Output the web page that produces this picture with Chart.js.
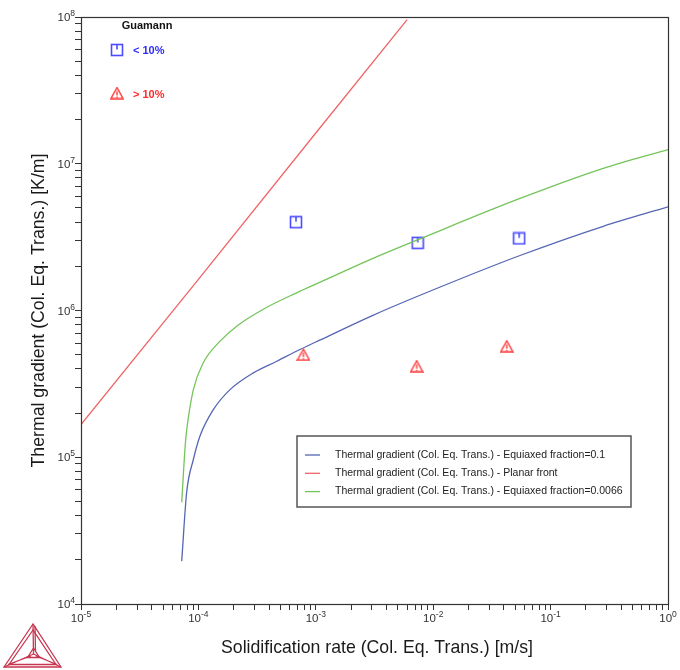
<!DOCTYPE html>
<html>
<head>
<meta charset="utf-8">
<script src="https://cdn.jsdelivr.net/npm/chart.js@4/dist/chart.umd.min.js"></script>
<style>
  body { margin: 0; background: #fff; }
  canvas { display: block; }
</style>
</head>
<body>
<canvas id="grafica" width="680" height="670"></canvas>
<script>
// curvas (log-log)
const velAzul = [7.21e-5, 7.94e-5, 9.06e-5, 1.03e-4, 1.34e-4, 1.86e-4, 2.94e-4, 4.65e-4, 7.33e-4, 1.09e-3, 3.0e-3, 7.73e-3, 5.49e-2, 0.281, 1.0];
const gradAzul = [1.96e4, 5.75e4, 9.65e4, 1.39e5, 2.11e5, 2.89e5, 3.76e5, 4.51e5, 5.42e5, 6.3e5, 9.2e5, 1.27e6, 2.37e6, 3.75e6, 5.08e6];

const velRojo = [1e-5, 1e-4, 1e-3, 6.0e-3];
const gradRojo = [1.67e5, 1.63e6, 1.62e7, 9.6e7];

const velVerde = [7.21e-5, 7.75e-5, 8.0e-5, 9.06e-5, 1.10e-4, 1.53e-4, 2.12e-4, 3.57e-4, 6.87e-4, 1.09e-3, 3.0e-3, 7.73e-3, 5.49e-2, 0.281, 1.0];
const gradVerde = [4.94e4, 1.25e5, 1.6e5, 2.89e5, 4.40e5, 6.18e5, 7.82e5, 1.02e6, 1.32e6, 1.56e6, 2.25e6, 3.08e6, 5.8e6, 9.3e6, 1.25e7];

// puntos experimentales (Guamann)
const velMenor = [6.78e-4, 7.38e-3, 0.054];
const gradMenor = [4.0e6, 2.89e6, 3.1e6];
const velMayor = [7.84e-4, 7.23e-3, 0.0423];
const gradMayor = [5.0e5, 4.17e5, 5.71e5];

const etiquetasSerie = [
    'Thermal gradient (Col. Eq. Trans.) - Equiaxed fraction=0.1',
    'Thermal gradient (Col. Eq. Trans.) - Planar front',
    'Thermal gradient (Col. Eq. Trans.) - Equiaxed fraction=0.0066'
];
const coloresSerie = ['#5566b4', '#f06468', '#74c45a'];
const expX = [-5, -4, -3, -2, -1, 0];
const expY = [4, 5, 6, 7, 8];

function pares(xs, ys) {
    return xs.map((x, i) => ({ x: x, y: ys[i] }));
}

function ticksLog(eMin, eMax) {
    const t = [];
    for (let e = eMin; e < eMax; e++) {
        for (let m = 1; m <= 9; m++) t.push({ value: m * Math.pow(10, e) });
    }
    t.push({ value: Math.pow(10, eMax) });
    return t;
}

// marcadores
function marcaCuadro() {
    const c = document.createElement('canvas');
    c.width = 14; c.height = 14;
    const g = c.getContext('2d');
    g.strokeStyle = '#4b4bff';
    g.lineWidth = 1.6;
    g.strokeRect(1.5, 1.5, 11, 11);
    g.beginPath();
    g.moveTo(7, 1.5); g.lineTo(7, 6.5);
    g.stroke();
    return c;
}
function marcaTriangulo() {
    const c = document.createElement('canvas');
    c.width = 14; c.height = 13;
    const g = c.getContext('2d');
    g.strokeStyle = '#ff3c3c';
    g.lineWidth = 1.4;
    g.beginPath();
    g.moveTo(7, 1); g.lineTo(1, 12); g.lineTo(13, 12); g.closePath();
    g.stroke();
    g.beginPath();
    g.moveTo(7, 4.5); g.lineTo(7, 9);
    g.stroke();
    g.fillStyle = '#ff3c3c';
    g.fillRect(6.3, 10, 1.4, 1.3);
    return c;
}
const imgCuadro = marcaCuadro();
const imgTriangulo = marcaTriangulo();

function textoPotencia(ctx, exp, x, y, alinear) {
    const base = '10', sup = String(exp);
    ctx.font = '11.5px "Liberation Sans", Arial, sans-serif';
    const w1 = ctx.measureText(base).width;
    ctx.font = '8.5px "Liberation Sans", Arial, sans-serif';
    const w2 = ctx.measureText(sup).width;
    let x0 = alinear === 'right' ? x - w1 - w2 : x - (w1 + w2) / 2;
    ctx.textAlign = 'left';
    ctx.textBaseline = 'alphabetic';
    ctx.font = '11.5px "Liberation Sans", Arial, sans-serif';
    ctx.fillText(base, x0, y + 4);
    ctx.font = '8.5px "Liberation Sans", Arial, sans-serif';
    ctx.fillText(sup, x0 + w1, y - 1);
}

const decoracion = {
    id: 'decoracion',
    afterDraw(chart) {
        const ctx = chart.ctx;
        const a = chart.chartArea;
        const sx = chart.scales.x, sy = chart.scales.y;
        ctx.save();

        // marco
        ctx.strokeStyle = '#333';
        ctx.lineWidth = 1.2;
        ctx.strokeRect(a.left + 0.5, a.top + 0.5, a.right - a.left, a.bottom - a.top);

        // etiquetas de ejes
        ctx.fillStyle = '#333';
        expX.forEach(e => textoPotencia(ctx, e, sx.getPixelForValue(Math.pow(10, e)), 618, 'center'));
        expY.forEach(e => textoPotencia(ctx, e, 75, sy.getPixelForValue(Math.pow(10, e)), 'right'));

        // titulos
        ctx.fillStyle = '#1a1a1a';
        ctx.font = '17.7px "Liberation Sans", Arial, sans-serif';
        ctx.textAlign = 'center';
        ctx.textBaseline = 'middle';
        ctx.fillText('Solidification rate (Col. Eq. Trans.) [m/s]', 377, 648);
        ctx.save();
        ctx.translate(39, (a.top + a.bottom) / 2);
        ctx.rotate(-Math.PI / 2);
        ctx.fillText('Thermal gradient (Col. Eq. Trans.) [K/m]', 0, 0);
        ctx.restore();

        // leyenda de curvas
        ctx.fillStyle = '#fff';
        ctx.fillRect(297, 436, 334, 71);
        ctx.strokeStyle = '#555';
        ctx.lineWidth = 1.5;
        ctx.strokeRect(297, 436, 334, 71);
        ctx.font = '10.5px "Liberation Sans", Arial, sans-serif';
        ctx.textAlign = 'left';
        ctx.textBaseline = 'middle';
        etiquetasSerie.forEach((t, i) => {
            const y = 455 + i * 18.3;
            ctx.strokeStyle = coloresSerie[i];
            ctx.lineWidth = 1.3;
            ctx.beginPath();
            ctx.moveTo(305, y); ctx.lineTo(320, y);
            ctx.stroke();
            ctx.fillStyle = '#222';
            ctx.fillText(t, 335, y);
        });

        // leyenda Guamann
        ctx.font = 'bold 11px "Liberation Sans", Arial, sans-serif';
        ctx.fillStyle = '#111';
        ctx.textAlign = 'center';
        ctx.fillText('Guamann', 147, 26);
        ctx.drawImage(imgCuadro, 117 - 7, 50 - 7);
        ctx.drawImage(imgTriangulo, 117 - 7, 93 - 6.5);
        ctx.textAlign = 'left';
        ctx.fillStyle = '#2b2bff';
        ctx.fillText('< 10%', 133, 51);
        ctx.fillStyle = '#ff2b2b';
        ctx.fillText('> 10%', 133, 95);

        // logo
        ctx.strokeStyle = '#c8364f';
        ctx.lineWidth = 1.3;
        const A = [33, 624], B = [4, 667], C = [61, 667], P = [33.5, 654];
        ctx.beginPath();
        ctx.moveTo(A[0], A[1]); ctx.lineTo(B[0], B[1]); ctx.lineTo(C[0], C[1]); ctx.closePath();
        ctx.stroke();
        ctx.beginPath();
        ctx.moveTo(33, 630); ctx.lineTo(9, 664.5); ctx.lineTo(56, 664.5); ctx.closePath();
        ctx.stroke();
        ctx.beginPath();
        [A, B, C].forEach(v => { ctx.moveTo(v[0], v[1]); ctx.lineTo(P[0], P[1]); });
        ctx.moveTo(35, 626); ctx.lineTo(35.5, 651);
        ctx.moveTo(8, 664.5); ctx.lineTo(31, 656);
        ctx.moveTo(57, 664.5); ctx.lineTo(36, 656);
        ctx.stroke();
        ctx.beginPath();
        ctx.moveTo(33.5, 648); ctx.lineTo(27.5, 657.5); ctx.lineTo(39.5, 657.5); ctx.closePath();
        ctx.stroke();

        ctx.restore();
    }
};

const ejeComun = {
    type: 'logarithmic',
    ticks: { callback: () => '', autoSkip: false },
    grid: { drawOnChartArea: false, drawTicks: true, tickLength: 6, color: '#333', lineWidth: 1 },
    border: { display: false }
};

new Chart(document.getElementById('grafica').getContext('2d'), {
    type: 'scatter',
    data: {
        datasets: [
            { label: etiquetasSerie[0], data: pares(velAzul, gradAzul), showLine: true, borderColor: coloresSerie[0], borderWidth: 1.3, pointRadius: 0, cubicInterpolationMode: 'monotone' },
            { label: etiquetasSerie[1], data: pares(velRojo, gradRojo), showLine: true, borderColor: coloresSerie[1], borderWidth: 1.3, pointRadius: 0 },
            { label: etiquetasSerie[2], data: pares(velVerde, gradVerde), showLine: true, borderColor: coloresSerie[2], borderWidth: 1.3, pointRadius: 0, cubicInterpolationMode: 'monotone' },
            { label: '< 10%', data: pares(velMenor, gradMenor), pointStyle: imgCuadro, showLine: false },
            { label: '> 10%', data: pares(velMayor, gradMayor), pointStyle: imgTriangulo, showLine: false }
        ]
    },
    options: {
        responsive: false,
        animation: false,
        devicePixelRatio: 1,
        layout: { padding: { top: 17, right: 12, left: 0, bottom: 0 } },
        plugins: { legend: { display: false }, tooltip: { enabled: false } },
        scales: {
            x: Object.assign({}, ejeComun, {
                min: 1e-5, max: 1,
                afterBuildTicks: s => { s.ticks = ticksLog(-5, 0); },
                afterFit: s => { s.height = 66; }
            }),
            y: Object.assign({}, ejeComun, {
                min: 1e4, max: 1e8,
                afterBuildTicks: s => { s.ticks = ticksLog(4, 8); },
                afterFit: s => { s.width = 81; }
            })
        }
    },
    plugins: [decoracion]
});
</script>
</body>
</html>
